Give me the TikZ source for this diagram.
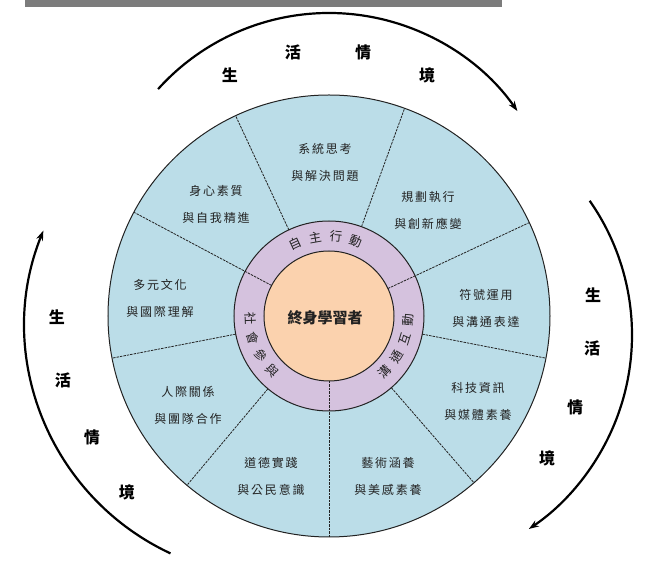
\documentclass[tikz,border=0pt]{standalone}
\usepackage{fontspec}
\newfontfamily\cjk[LetterSpace=15]{Noto Sans CJK TC}
\newfontfamily\cjkplain{Noto Sans CJK TC}
\usetikzlibrary{arrows.meta}
\definecolor{Ink}{HTML}{222222}
\definecolor{Sky}{HTML}{BBDDE8}
\definecolor{Lilac}{HTML}{D5C2DE}
\definecolor{Peach}{HTML}{FBD2AE}
\definecolor{Bar}{HTML}{7C7C7C}

\begin{document}
\begin{tikzpicture}[x=1pt, y=1pt,
  sector/.style={align=center, text=Ink, inner sep=0pt,
    font=\cjk\fontsize{12}{27}\selectfont},
  ringtxt/.style={text=Ink, inner sep=0pt, font=\cjkplain\fontsize{12.5}{12.5}\selectfont},
  ctx/.style={inner sep=0pt, font=\cjkplain\bfseries\fontsize{16}{16}\selectfont},
  ctxarc/.style={line width=2.2pt, -{Stealth[length=10pt,width=7pt]}},
  rim/.style={draw=Ink, line width=1pt},
  divider/.style={draw=Ink, line width=0.8pt, dash pattern=on 2.5pt off 1pt}
]
  \useasboundingbox (-329,-245) rectangle (316,316);
  \fill[Bar] (-304,309) rectangle (173,316);

  % wheel
  \draw[rim, fill=Sky] (0,0) circle[radius=221];
  \draw[rim, fill=Lilac] (0,0) circle[radius=95];
  \foreach \a in {115,70,-11,-49,230,191}
    \draw[divider] (\a:95) -- (\a:221);
  \foreach \a in {152,25,-90}
    \draw[divider] (\a:65) -- (\a:221);
  \draw[rim, fill=Peach] (0,0) circle[radius=65];

  \node[font=\cjkplain\bfseries\fontsize{15}{15}\selectfont, text=Ink] (learner) at (-4,-2) {終身學習者};

  % three dimensions
  \foreach \ch/\a [count=\i] in {自/115,主/100,行/85,動/70}
    \node[ringtxt, rotate=\a-90] (auto\i) at (\a:80) {\ch};
  \foreach \ch/\a [count=\i] in {溝/-45,通/-31,互/-17,動/-3}
    \node[ringtxt, rotate=\a+90] (comm\i) at (\a:79) {\ch};
  \foreach \ch/\a [count=\i] in {社/182,會/196,參/210,與/224}
    \node[ringtxt, rotate=\a+90] (soc\i) at (\a:79) {\ch};

  % nine items
  \node[sector] (body) at (-113,112) {身心素質\\與自我精進};
  \node[sector] (think) at (-4,154) {系統思考\\與解決問題};
  \node[sector] (plan) at (99,106) {規劃執行\\與創新應變};
  \node[sector] (symbol) at (157,8) {符號運用\\與溝通表達};
  \node[sector] (media) at (149,-85) {科技資訊\\與媒體素養};
  \node[sector] (art) at (59,-160) {藝術涵養\\與美感素養};
  \node[sector] (moral) at (-58,-160) {道德實踐\\與公民意識};
  \node[sector] (team) at (-141,-89) {人際關係\\與團隊合作};
  \node[sector] (culture) at (-169,18) {多元文化\\與國際理解};

  % life context arcs
  \draw[ctxarc] (0,73) ++(138:230) arc[start angle=138, end angle=35, radius=230];
  \draw[ctxarc] (-52,-9) ++(245:252) arc[start angle=245, end angle=158, radius=252];
  \draw[ctxarc] (69,-19) ++(35:234) arc[start angle=35, end angle=-56, radius=234];

  \foreach \ch/\p [count=\i] in {生/{(-99,241)},活/{(-36,264)},情/{(34,264)},境/{(98,241)}}
    \node[ctx] (top\i) at \p {\ch};
  \foreach \ch/\p [count=\i] in {生/{(-272,-1)},活/{(-266,-64)},情/{(-237,-121)},境/{(-202,-176)}}
    \node[ctx] (left\i) at \p {\ch};
  \foreach \ch/\p [count=\i] in {生/{(264,21)},活/{(263,-32)},情/{(246,-91)},境/{(218,-142)}}
    \node[ctx] (right\i) at \p {\ch};
\end{tikzpicture}
\end{document}
